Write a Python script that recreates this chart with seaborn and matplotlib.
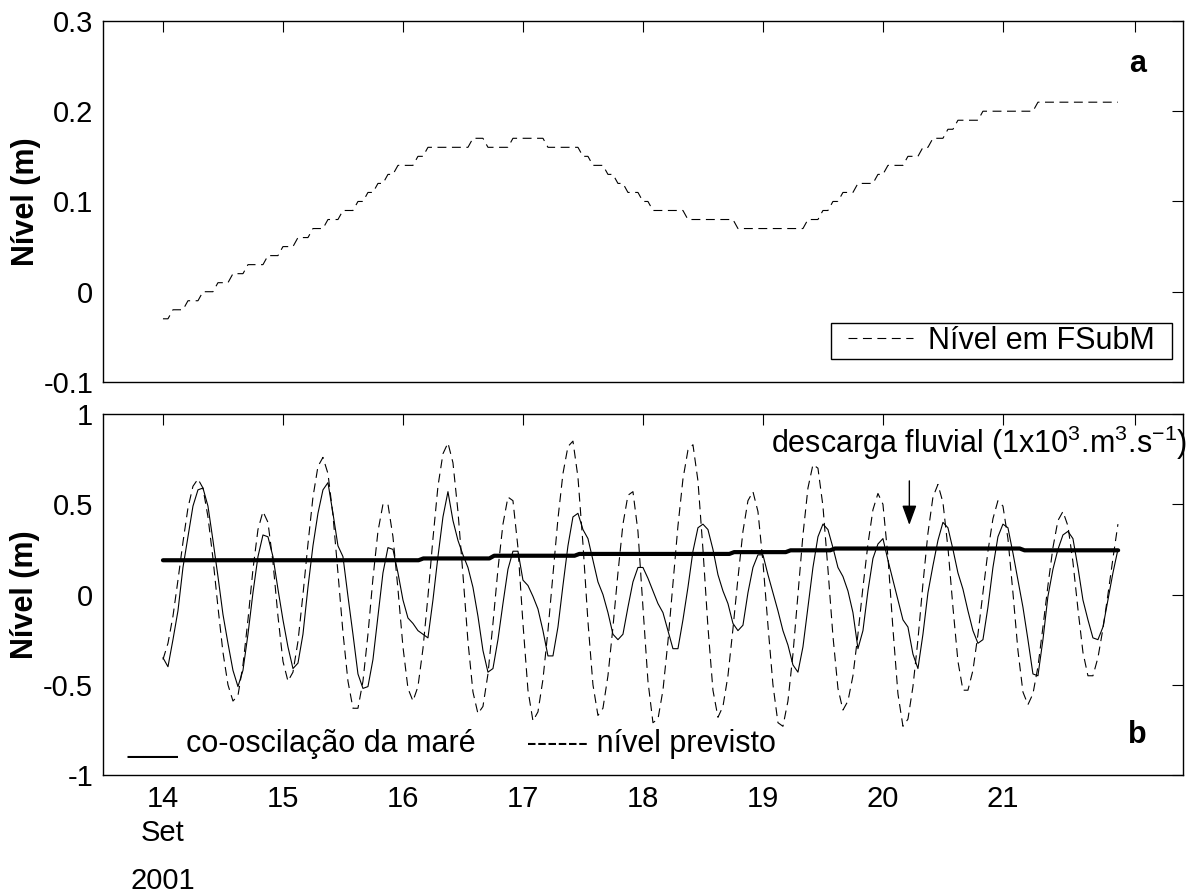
import numpy as np
import pandas as pd
import matplotlib
matplotlib.use("Agg")
import matplotlib.pyplot as plt
import seaborn as sns
from matplotlib.patches import Rectangle

# ---------------- data (hourly samples from 14 Sep 2001 00h) ----------------
nivel_fsubm = [
    -0.03, -0.03, -0.02, -0.02, -0.02, -0.01, -0.01, -0.01, 0.00, 0.00, 0.00, 0.01,
    0.01, 0.01, 0.02, 0.02, 0.02, 0.03, 0.03, 0.03, 0.03, 0.04, 0.04, 0.04,
    0.05, 0.05, 0.05, 0.06, 0.06, 0.06, 0.07, 0.07, 0.07, 0.08, 0.08, 0.08,
    0.09, 0.09, 0.09, 0.10, 0.10, 0.11, 0.11, 0.12, 0.12, 0.13, 0.13, 0.14,
    0.14, 0.14, 0.14, 0.15, 0.15, 0.16, 0.16, 0.16, 0.16, 0.16, 0.16, 0.16,
    0.16, 0.16, 0.17, 0.17, 0.17, 0.16, 0.16, 0.16, 0.16, 0.16, 0.17, 0.17,
    0.17, 0.17, 0.17, 0.17, 0.17, 0.16, 0.16, 0.16, 0.16, 0.16, 0.16, 0.16,
    0.15, 0.15, 0.14, 0.14, 0.14, 0.13, 0.13, 0.12, 0.12, 0.11, 0.11, 0.11,
    0.10, 0.10, 0.09, 0.09, 0.09, 0.09, 0.09, 0.09, 0.09, 0.08, 0.08, 0.08,
    0.08, 0.08, 0.08, 0.08, 0.08, 0.08, 0.08, 0.07, 0.07, 0.07, 0.07, 0.07,
    0.07, 0.07, 0.07, 0.07, 0.07, 0.07, 0.07, 0.07, 0.07, 0.08, 0.08, 0.08,
    0.09, 0.09, 0.10, 0.10, 0.11, 0.11, 0.11, 0.12, 0.12, 0.12, 0.12, 0.13,
    0.13, 0.14, 0.14, 0.14, 0.14, 0.15, 0.15, 0.15, 0.16, 0.16, 0.17, 0.17,
    0.17, 0.18, 0.18, 0.19, 0.19, 0.19, 0.19, 0.19, 0.20, 0.20, 0.20, 0.20,
    0.20, 0.20, 0.20, 0.20, 0.20, 0.20, 0.20, 0.21, 0.21, 0.21, 0.21, 0.21,
    0.21, 0.21, 0.21, 0.21, 0.21, 0.21, 0.21, 0.21, 0.21, 0.21, 0.21, 0.21,
]

nivel_previsto = [
    -0.36, -0.27, -0.12, 0.08, 0.29, 0.48, 0.60, 0.64, 0.59, 0.43, 0.20, -0.07,
    -0.32, -0.50, -0.59, -0.56, -0.39, -0.14, 0.14, 0.36, 0.46, 0.40, 0.18, -0.12,
    -0.37, -0.48, -0.43, -0.26, 0.00, 0.28, 0.54, 0.71, 0.76, 0.67, 0.44, 0.12,
    -0.21, -0.48, -0.63, -0.63, -0.48, -0.22, 0.09, 0.35, 0.50, 0.50, 0.32, 0.03,
    -0.29, -0.52, -0.59, -0.51, -0.30, -0.01, 0.31, 0.60, 0.78, 0.84, 0.73, 0.46,
    0.11, -0.26, -0.54, -0.66, -0.62, -0.44, -0.16, 0.14, 0.39, 0.54, 0.52, 0.26,
    -0.16, -0.53, -0.70, -0.65, -0.47, -0.20, 0.11, 0.42, 0.67, 0.82, 0.85, 0.65,
    0.28, -0.15, -0.50, -0.67, -0.63, -0.45, -0.18, 0.12, 0.39, 0.55, 0.57, 0.35,
    -0.07, -0.48, -0.71, -0.69, -0.53, -0.26, 0.06, 0.38, 0.64, 0.80, 0.83, 0.63,
    0.25, -0.18, -0.53, -0.68, -0.62, -0.45, -0.19, 0.09, 0.35, 0.52, 0.57, 0.46,
    0.18, -0.17, -0.50, -0.71, -0.73, -0.59, -0.33, 0.00, 0.33, 0.59, 0.72, 0.70,
    0.49, 0.14, -0.23, -0.52, -0.64, -0.59, -0.45, -0.22, 0.04, 0.28, 0.47, 0.56,
    0.50, 0.21, -0.19, -0.55, -0.73, -0.69, -0.51, -0.25, 0.06, 0.34, 0.54, 0.61,
    0.51, 0.26, -0.07, -0.37, -0.53, -0.53, -0.42, -0.22, 0.01, 0.24, 0.42, 0.52,
    0.49, 0.31, 0.01, -0.31, -0.54, -0.61, -0.55, -0.40, -0.18, 0.05, 0.26, 0.41,
    0.46, 0.38, 0.18, -0.08, -0.32, -0.45, -0.45, -0.35, -0.19, 0.00, 0.20, 0.39,
]

co_oscilacao = [
    -0.35, -0.40, -0.25, -0.09, 0.15, 0.32, 0.49, 0.58, 0.59, 0.49, 0.30, 0.10,
    -0.11, -0.27, -0.42, -0.51, -0.42, -0.22, 0.01, 0.21, 0.33, 0.32, 0.21, 0.03,
    -0.14, -0.29, -0.41, -0.38, -0.22, 0.04, 0.27, 0.45, 0.58, 0.62, 0.45, 0.27,
    0.21, -0.01, -0.22, -0.44, -0.52, -0.51, -0.36, -0.12, 0.12, 0.26, 0.25, 0.12,
    -0.03, -0.13, -0.16, -0.20, -0.22, -0.24, -0.03, 0.21, 0.43, 0.57, 0.41, 0.30,
    0.22, 0.15, 0.04, -0.12, -0.31, -0.43, -0.41, -0.25, -0.05, 0.14, 0.24, 0.24,
    0.08, 0.05, -0.01, -0.08, -0.20, -0.34, -0.34, -0.18, 0.05, 0.27, 0.43, 0.45,
    0.36, 0.31, 0.19, 0.07, 0.00, -0.10, -0.22, -0.25, -0.22, -0.07, 0.07, 0.15,
    0.15, 0.09, 0.02, -0.05, -0.10, -0.20, -0.30, -0.30, -0.14, 0.04, 0.24, 0.37,
    0.39, 0.36, 0.25, 0.11, 0.02, -0.05, -0.16, -0.20, -0.17, 0.01, 0.15, 0.22,
    0.22, 0.11, 0.01, -0.09, -0.20, -0.28, -0.39, -0.43, -0.29, -0.07, 0.15, 0.32,
    0.39, 0.36, 0.26, 0.15, 0.10, 0.02, -0.10, -0.30, -0.20, 0.02, 0.20, 0.28,
    0.31, 0.19, 0.08, -0.03, -0.14, -0.18, -0.33, -0.41, -0.22, 0.01, 0.16, 0.30,
    0.40, 0.37, 0.25, 0.12, 0.03, -0.09, -0.20, -0.27, -0.25, -0.07, 0.15, 0.32,
    0.39, 0.37, 0.23, 0.08, -0.07, -0.25, -0.44, -0.45, -0.25, -0.01, 0.14, 0.25,
    0.33, 0.35, 0.31, 0.15, -0.03, -0.14, -0.24, -0.25, -0.18, -0.03, 0.12, 0.25,
]

descarga_dias = [14.0, 16.13, 16.17, 16.72, 16.76, 17.43, 17.47, 18.72, 18.76,
                 19.19, 19.23, 19.56, 19.60, 21.14, 21.18, 21.96]
descarga_val = [0.19, 0.19, 0.20, 0.20, 0.215, 0.215, 0.225, 0.225, 0.235,
                0.235, 0.245, 0.245, 0.255, 0.255, 0.245, 0.245]

xticks = [14, 15, 16, 17, 18, 19, 20, 21, 22.1]
xticklabels = ["14\nSet", "15", "16", "17", "18", "19", "20", "21", ""]
yticks_a = [-0.1, 0, 0.1, 0.2, 0.3]
yticklabels_a = ["-0.1", "0", "0.1", "0.2", "0.3"]
yticks_b = [-1, -0.5, 0, 0.5, 1]
yticklabels_b = ["-1", "-0.5", "0", "0.5", "1"]

horas = np.arange(len(nivel_fsubm))
dias = 14 + horas / 24.0

# ---------------- style ----------------
sns.set_theme(style="white")
plt.rcParams["font.family"] = ["Liberation Sans", "DejaVu Sans"]
plt.rcParams["mathtext.fontset"] = "custom"
plt.rcParams["mathtext.rm"] = "Liberation Sans"
plt.rcParams["mathtext.it"] = "Liberation Sans:italic"
plt.rcParams["mathtext.bf"] = "Liberation Sans:bold"
plt.rcParams["axes.unicode_minus"] = False
plt.rcParams["axes.edgecolor"] = "black"
plt.rcParams["axes.linewidth"] = 1.0
plt.rcParams["text.color"] = "black"
plt.rcParams["axes.labelcolor"] = "black"
plt.rcParams["xtick.color"] = "black"
plt.rcParams["ytick.color"] = "black"

fig = plt.figure(figsize=(11.89, 8.96), dpi=100)
ax1 = fig.add_axes([0.0866, 0.5737, 0.9083, 0.4029])
ax2 = fig.add_axes([0.0866, 0.1350, 0.9083, 0.4029])

DASH = (0, (8, 5))

# ---------------- panel a ----------------
df_a = pd.DataFrame({"dia": dias, "nivel": nivel_fsubm})
sns.lineplot(data=df_a, x="dia", y="nivel", ax=ax1, color="black", lw=0.8,
             estimator=None, legend=False)
line_a = ax1.get_lines()[-1]
line_a.set_linestyle(DASH)

# ---------------- panel b ----------------
df_b = pd.DataFrame({"dia": dias, "prev": nivel_previsto, "coosc": co_oscilacao})
sns.lineplot(data=df_b, x="dia", y="prev", ax=ax2, color="black", lw=0.8,
             estimator=None, legend=False)
ax2.get_lines()[-1].set_linestyle(DASH)
sns.lineplot(data=df_b, x="dia", y="coosc", ax=ax2, color="black", lw=0.8,
             estimator=None, legend=False)
df_d = pd.DataFrame({"dia": descarga_dias, "q": descarga_val})
sns.lineplot(data=df_d, x="dia", y="q", ax=ax2, color="black", lw=3.0,
             estimator=None, legend=False)

# ---------------- axes cosmetics ----------------
for ax in (ax1, ax2):
    ax.set_xlim(13.5, 22.5)
    ax.set_xticks(xticks)
    ax.tick_params(axis="both", which="both", direction="in", length=8, width=0.8,
                   top=True, right=True, colors="black", labelcolor="black",
                   labelsize=21, pad=7)
    ax.set_ylabel("Nível (m)", fontsize=22, fontweight="bold", labelpad=2,
                  color="black")
    ax.set_xlabel("")
    for s in ax.spines.values():
        s.set_visible(True)
        s.set_color("black")
        s.set_linewidth(1.0)

ax1.set_ylim(-0.1, 0.3)
ax1.set_yticks(yticks_a)
ax1.set_yticklabels(yticklabels_a)
ax1.set_xticklabels([""] * len(xticks))

ax2.set_ylim(-1, 1)
ax2.set_yticks(yticks_b)
ax2.set_yticklabels(yticklabels_b)
ax2.set_xticklabels(xticklabels)
for lbl in ax2.get_xticklabels():
    lbl.set_linespacing(1.3)
ax2.set_xlabel("2001", fontsize=21, color="black")
ax2.xaxis.set_label_coords(0.5 / 9.0, -0.255)

# legend of panel a (boxed)
leg = ax1.legend(handles=[line_a], labels=["Nível em FSubM"], loc="center",
                 bbox_to_anchor=(0.832, 0.1134), frameon=False, fontsize=22,
                 handlelength=2.1, handletextpad=0.5, borderpad=0.0,
                 labelcolor="black")
ax1.add_patch(Rectangle((0.674, 0.0637), 0.3158, 0.0997, transform=ax1.transAxes,
                        fill=False, edgecolor="black", lw=1.0, zorder=5))

ax1.text(22.12, 0.2435, "a", fontsize=22, fontweight="bold", ha="center",
         va="baseline", color="black")
ax2.text(22.12, -0.823, "b", fontsize=22, fontweight="bold", ha="center",
         va="baseline", color="black")

ax2.text(13.706, -0.8726, "___ co-oscilação da maré      ------ nível previsto",
         fontsize=22, ha="left", va="baseline", color="black")
ax2.text(19.07, 0.782, r"descarga fluvial (1x10$^{3}$.m$^{3}$.s$^{-1}$)",
         fontsize=22, ha="left", va="baseline", color="black")
ax2.annotate("", xy=(20.22, 0.37), xytext=(20.22, 0.645),
             arrowprops=dict(arrowstyle="-|>,head_length=0.6,head_width=0.22",
                             color="black", lw=1.0, mutation_scale=20))

fig.savefig("out.png", dpi=100)
